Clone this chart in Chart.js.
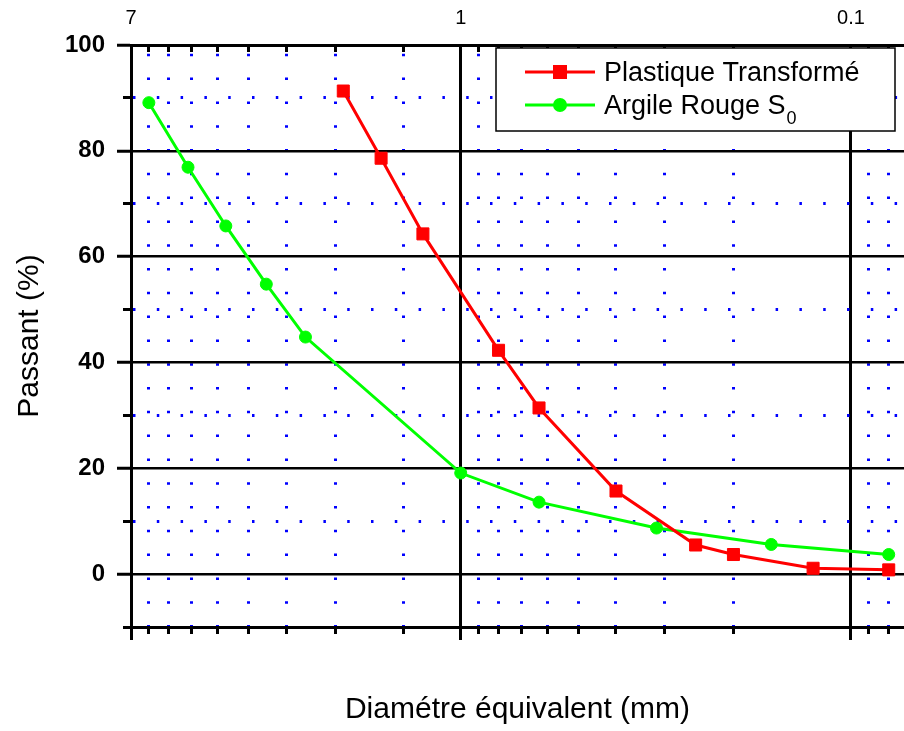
<!DOCTYPE html>
<html>
<head>
<meta charset="utf-8">
<script src="https://cdn.jsdelivr.net/npm/chart.js"></script>
<style>
  body { margin: 0; background: #fff; }
  #wrap { width: 904px; height: 731px; }
</style>
</head>
<body>
<div id="wrap"><canvas id="myChart"></canvas></div>
<script>
'use strict';

// données
var plastiqueX = [2.0, 1.6, 1.25, 0.8, 0.63, 0.4, 0.25, 0.2, 0.125, 0.08];
var plastiqueY = [91.3, 78.6, 64.3, 42.3, 31.4, 15.7, 5.5, 3.7, 1.1, 0.8];
var argileX = [6.3, 5.0, 4.0, 3.15, 2.5, 1.0, 0.63, 0.315, 0.16, 0.08];
var argileY = [89.1, 76.9, 65.8, 54.8, 44.8, 19.1, 13.6, 8.7, 5.6, 3.7];

// graduations
var xTicks = [7, 6.3, 5.6, 4.9, 4.2, 3.5, 2.8, 2.1, 1.4, 1, 0.9, 0.8, 0.7, 0.6, 0.5, 0.4, 0.3, 0.2, 0.1, 0.09, 0.08];
var xMajor = [7, 1, 0.1];
var xLabels = ["7", "1", "0.1"];
var yTicks = [-10, 0, 10, 20, 30, 40, 50, 60, 70, 80, 90, 100];
var yLabels = [0, 20, 40, 60, 80, 100];

var FONT = '"Liberation Sans", Arial, sans-serif';
var BLUE = '#0000ff';

function pts(xs, ys) {
  return xs.map(function (x, i) { return { x: x, y: ys[i] }; });
}

function minorX(c) {
  return c.tick && xMajor.indexOf(c.tick.value) < 0;
}
function minorY(c) {
  return c.tick && c.tick.value % 20 !== 0;
}

function setXTicks(scale) {
  scale.ticks = xTicks.map(function (v) { return { value: v }; });
}

// pas de marge auto autour des axes
function fixSize(h, w) {
  return function (s) {
    if (h) s.height = h;
    if (w) s.width = w;
    s.paddingLeft = 0;
    s.paddingRight = 0;
    s.paddingTop = 0;
    s.paddingBottom = 0;
  };
}

// légende dessinée à la main (ligne + symbole, indice S0)
var legendBox = {
  id: 'legendBox',
  afterDraw: function (chart) {
    var ctx = chart.ctx;
    ctx.save();
    ctx.fillStyle = '#fff';
    ctx.fillRect(496, 48, 399, 83);
    ctx.strokeStyle = '#000';
    ctx.lineWidth = 1.5;
    ctx.strokeRect(496, 48, 399, 83);

    var rows = [
      { y: 72, base: 81, color: '#ff0000', style: 'rect', text: 'Plastique Transformé', sub: '' },
      { y: 105, base: 114, color: '#00ff00', style: 'circle', text: 'Argile Rouge S', sub: '0' }
    ];
    rows.forEach(function (r) {
      ctx.strokeStyle = r.color;
      ctx.fillStyle = r.color;
      ctx.lineWidth = 3;
      ctx.beginPath();
      ctx.moveTo(525, r.y);
      ctx.lineTo(595, r.y);
      ctx.stroke();
      ctx.beginPath();
      if (r.style === 'rect') {
        ctx.rect(553, r.y - 7, 14, 14);
      } else {
        ctx.arc(560, r.y, 7, 0, Math.PI * 2);
      }
      ctx.fill();

      ctx.fillStyle = '#000';
      ctx.textBaseline = 'alphabetic';
      ctx.font = '27px ' + FONT;
      ctx.fillText(r.text, 604, r.base);
      if (r.sub) {
        var w = ctx.measureText(r.text).width;
        ctx.font = '18px ' + FONT;
        ctx.fillText(r.sub, 604 + w + 1, r.base + 10);
      }
    });
    ctx.restore();
  }
};

new Chart('myChart', {
  type: 'line',
  data: {
    datasets: [
      {
        label: 'Plastique Transformé',
        data: pts(plastiqueX, plastiqueY),
        borderColor: '#ff0000',
        backgroundColor: '#ff0000',
        borderWidth: 3,
        pointStyle: 'rect',
        pointRadius: 8.5,
        pointBorderWidth: 1,
        tension: 0
      },
      {
        label: 'Argile Rouge S0',
        data: pts(argileX, argileY),
        borderColor: '#00ff00',
        backgroundColor: '#00ff00',
        borderWidth: 3,
        pointStyle: 'circle',
        pointRadius: 6,
        pointBorderWidth: 1,
        tension: 0
      }
    ]
  },
  options: {
    responsive: true,
    maintainAspectRatio: false,
    animation: false,
    layout: { padding: 0, autoPadding: false },
    plugins: {
      legend: { display: false },
      tooltip: { enabled: false }
    },
    scales: {
      x: {
        type: 'logarithmic',
        position: 'bottom',
        reverse: true,
        bounds: 'data',
        min: 0.0731,
        max: 7,
        afterBuildTicks: setXTicks,
        afterFit: fixSize(104, 0),
        ticks: { display: false, autoSkip: false },
        grid: {
          color: function (c) { return minorX(c) ? BLUE : '#000'; },
          lineWidth: 3,
          tickColor: '#000',
          tickWidth: 3,
          tickLength: 13,
          tickBorderDash: function (c) { return minorX(c) ? [5, 100] : []; }
        },
        border: {
          color: '#000',
          width: 3,
          dash: function (c) { return minorX(c) ? [2.5, 21.3] : []; },
          dashOffset: function (c) { return minorX(c) ? 15 : 0; }
        },
        title: {
          display: true,
          text: 'Diamétre équivalent (mm)',
          color: '#000',
          font: { family: FONT, size: 30 },
          padding: { top: 0, bottom: 3 }
        }
      },
      x2: {
        type: 'logarithmic',
        position: 'top',
        reverse: true,
        bounds: 'data',
        min: 0.0731,
        max: 7,
        afterBuildTicks: setXTicks,
        afterFit: fixSize(45, 0),
        ticks: {
          autoSkip: false,
          maxRotation: 0,
          padding: 22,
          color: '#000',
          font: { family: FONT, size: 20 },
          callback: function (v) {
            var i = xMajor.indexOf(v);
            return i < 0 ? '' : xLabels[i];
          }
        },
        grid: {
          drawOnChartArea: false,
          tickColor: '#000',
          tickWidth: 3,
          tickLength: -7
        },
        border: { color: '#000', width: 3 }
      },
      y: {
        type: 'linear',
        position: 'left',
        min: -10,
        max: 100,
        afterBuildTicks: function (s) {
          s.ticks = yTicks.map(function (v) { return { value: v }; });
        },
        afterFit: fixSize(0, 131),
        ticks: {
          autoSkip: false,
          padding: 12,
          color: '#000',
          font: { family: FONT, size: 24, weight: 'bold' },
          callback: function (v) { return yLabels.indexOf(v) < 0 ? '' : String(v); }
        },
        grid: {
          color: function (c) { return minorY(c) ? BLUE : '#000'; },
          lineWidth: function (c) { return minorY(c) ? 3 : 2.5; },
          tickColor: '#000',
          tickWidth: 3,
          tickLength: 14,
          tickBorderDash: function (c) { return minorY(c) ? [7, 100] : []; },
          tickBorderDashOffset: function (c) { return minorY(c) ? 101 : 0; }
        },
        border: {
          color: '#000',
          width: 3,
          dash: function (c) { return minorY(c) ? [2.5, 21.3] : []; }
        },
        title: {
          display: true,
          text: 'Passant (%)',
          color: '#000',
          font: { family: FONT, size: 30 },
          padding: { top: 12, bottom: 0 }
        }
      }
    }
  },
  plugins: [legendBox]
});
</script>
</body>
</html>
